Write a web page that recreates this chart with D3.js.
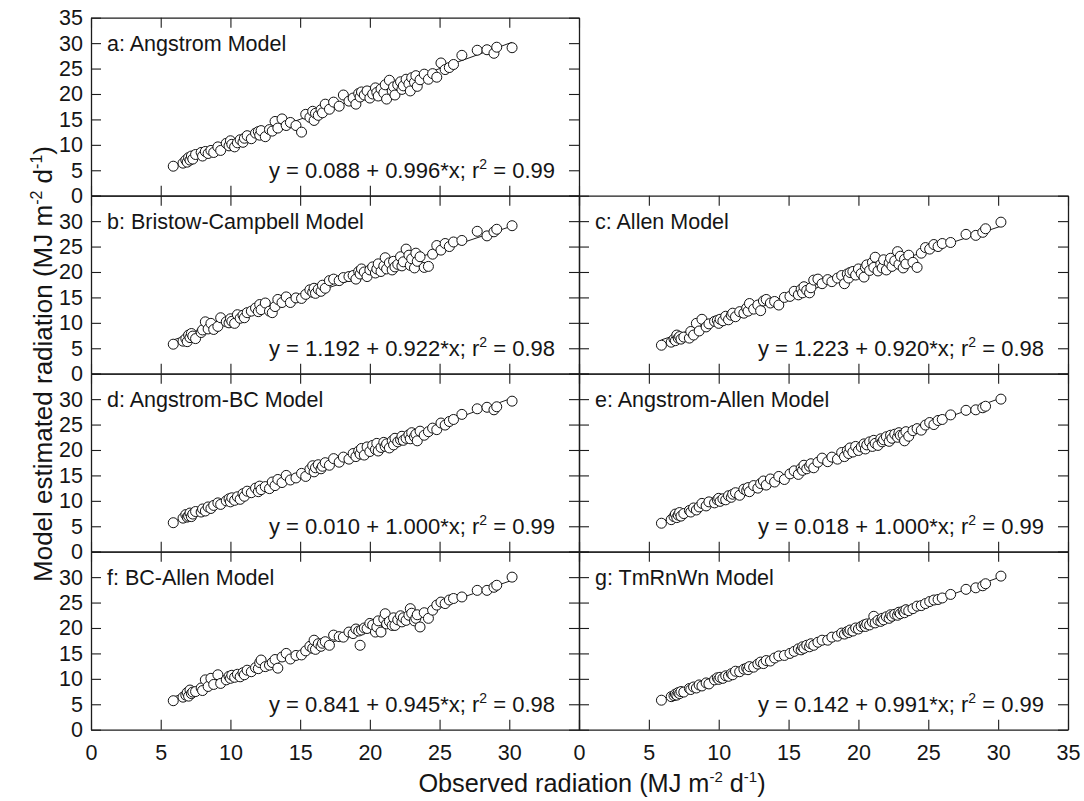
<!DOCTYPE html>
<html>
<head>
<meta charset="utf-8">
<script src="https://cdn.jsdelivr.net/npm/d3@7"></script>
<style>
  html, body { margin: 0; padding: 0; background: #fff; }
  svg { display: block; }
  text { font-family: "Liberation Sans", Arial, Helvetica, sans-serif; fill: #151515; }
</style>
</head>
<body>
<svg id="chart" width="1084" height="801"></svg>
<script>
// Observed daily radiation (MJ m-2 d-1), shared by every model panel
const observed = [
  5.9, 6.6, 6.8, 6.9, 7.0, 7.1, 7.2, 7.3, 7.5, 7.9,
  8.0, 8.2, 8.4, 8.6, 8.8, 9.1, 9.3, 9.7, 9.9, 10.0,
  10.1, 10.3, 10.5, 10.7, 10.9, 11.0, 11.2, 11.5, 11.8, 12.0,
  12.1, 12.2, 12.5, 12.8, 13.0, 13.2, 13.4, 13.7, 14.0, 14.3,
  14.7, 15.1, 15.4, 15.7, 15.9, 16.0, 16.1, 16.3, 16.5, 16.6,
  16.8, 17.1, 17.4, 17.8, 18.1, 18.5, 18.8, 19.0, 19.2, 19.3,
  19.4, 19.6, 19.8, 20.0, 20.2, 20.4, 20.5, 20.6, 20.8, 21.0,
  21.1, 21.2, 21.4, 21.6, 21.7, 21.8, 22.0, 22.2, 22.3, 22.4,
  22.6, 22.8, 22.9, 23.0, 23.2, 23.3, 23.4, 23.6, 23.9, 24.2,
  24.5, 24.8, 25.1, 25.4, 25.7, 26.0, 26.6, 27.7, 28.4, 28.9,
  29.1, 30.2
];

// Model estimates, one value per observation
const angstrom = [
  5.8, 6.4, 7.0, 6.6, 7.5, 7.0, 7.8, 7.2, 8.1, 8.5,
  7.8, 8.7, 8.3, 8.9, 8.5, 9.6, 8.9, 10.3, 9.8, 10.8,
  10.1, 9.6, 10.4, 11.0, 10.5, 11.3, 11.8, 11.2, 12.3, 12.6,
  11.9, 12.8, 11.6, 13.0, 12.7, 14.6, 13.3, 15.1, 13.8, 14.4,
  13.8, 12.5, 16.0, 15.4, 16.6, 14.8, 16.2, 15.8, 16.9, 16.3,
  18.0, 17.0, 18.4, 17.6, 19.8, 18.6, 19.2, 18.0, 20.1, 19.4,
  20.4, 19.8, 20.6, 19.2, 20.0, 21.2, 20.3, 19.6, 21.0, 20.2,
  21.8, 19.0, 22.7, 20.6, 21.4, 19.8, 21.8, 22.4, 20.9, 21.6,
  22.9, 22.0, 20.6, 23.2, 22.3, 23.6, 21.5, 22.8, 23.9, 22.9,
  24.0, 23.3, 26.1, 24.8, 25.2, 25.8, 27.6, 28.6, 28.7, 28.0,
  29.2, 29.1
];
const bristowCampbell = [
  5.8, 6.4, 6.9, 6.3, 7.6, 7.1, 7.9, 7.4, 6.9, 8.1,
  8.6, 10.2, 8.8, 9.9, 8.7, 9.3, 11.0, 10.2, 10.0, 10.8,
  10.3, 9.9, 11.6, 10.9, 11.5, 11.0, 12.0, 12.3, 12.9, 12.2,
  13.6, 12.6, 13.9, 12.3, 12.0, 13.2, 14.6, 14.0, 15.1, 14.0,
  14.9, 14.8, 15.6, 16.5, 16.0, 16.8, 15.8, 16.6, 16.2, 17.4,
  16.8, 18.3, 18.6, 18.3, 18.9, 19.1, 19.3, 18.6, 20.1, 19.6,
  20.6, 20.0, 19.1, 20.4, 21.0, 19.8, 20.6, 21.6, 20.1, 21.2,
  22.8, 20.6, 21.8, 20.4, 22.1, 21.0, 21.5, 23.0, 21.2, 22.0,
  24.5, 23.3, 21.3, 22.6, 20.8, 23.7, 22.1, 23.0, 20.9, 21.1,
  23.5, 25.2, 24.3, 25.6, 25.0, 25.9, 26.2, 28.0, 27.1, 27.9,
  28.4, 29.1
];
const allen = [
  5.6, 6.2, 6.8, 6.5, 7.6, 7.0, 7.3, 6.8, 7.2, 7.0,
  8.3, 7.6, 9.9, 8.4, 10.7, 9.2, 9.8, 10.3, 10.5, 9.9,
  10.7, 10.4, 11.3, 10.6, 11.5, 11.9, 11.2, 12.2, 11.9, 12.9,
  12.3, 13.8, 12.7, 13.5, 12.4, 14.3, 14.6, 13.9, 14.2, 13.5,
  15.0, 15.2, 16.2, 15.5, 16.6, 15.9, 17.1, 16.4, 15.9, 16.9,
  18.4, 18.6, 17.7, 18.5, 18.1, 18.8, 19.3, 17.7, 19.6, 18.8,
  19.9, 20.1, 19.4, 20.6, 19.7, 19.0, 20.9, 21.4, 20.3, 21.9,
  20.9, 22.9, 20.2, 21.5, 20.8, 22.4, 20.4, 21.8, 22.7, 21.1,
  22.2, 24.0, 21.5, 23.1, 20.8, 22.5, 21.6, 23.3, 21.9, 20.9,
  23.7, 24.8, 24.5, 25.4, 25.0, 25.6, 25.8, 27.4, 27.2, 27.8,
  28.5, 29.8
];
const angstromBC = [
  5.7, 6.6, 7.3, 6.8, 7.0, 7.6, 6.9, 7.4, 7.9, 7.8,
  8.4, 8.0, 8.8, 8.5, 9.1, 9.6, 9.3, 10.0, 10.4, 9.8,
  10.6, 10.1, 10.8, 10.3, 11.4, 10.9, 11.9, 11.6, 12.5, 11.8,
  12.9, 12.2, 12.8, 12.4, 13.7, 13.0, 14.2, 13.6, 15.0, 14.1,
  14.5, 15.4, 14.8, 16.2, 16.9, 15.7, 16.5, 17.1, 16.3, 16.8,
  17.5, 17.0, 18.3, 17.6, 18.6, 18.2, 19.3, 18.7, 19.8, 19.2,
  20.3, 19.0, 20.6, 19.7, 20.9, 20.1, 21.3, 19.8, 20.5, 21.5,
  20.7, 21.2, 20.4, 21.8, 21.0, 22.3, 21.6, 22.0, 22.7, 21.9,
  22.3, 23.0, 22.2, 23.4, 22.6, 23.1, 21.8, 23.7, 22.9, 23.6,
  24.3, 24.0, 25.3, 24.9, 25.6, 26.0, 27.0, 28.1, 28.4, 27.9,
  28.5, 29.6
];
const angstromAllen = [
  5.6, 6.3, 6.9, 7.4, 6.7, 7.2, 7.7, 7.0, 7.5, 8.1,
  7.8, 8.6, 8.2, 8.8, 9.5, 9.0, 9.8, 9.6, 10.2, 10.5,
  9.9, 10.4, 10.2, 11.0, 10.7, 11.3, 11.6, 11.1, 12.3, 12.0,
  12.6, 11.8, 13.0, 12.5, 13.4, 13.9, 13.1, 14.3, 13.7, 14.8,
  14.2, 15.3, 15.9, 15.2, 16.4, 16.0, 17.0, 16.3, 16.8, 17.3,
  16.5, 17.6, 18.4, 17.7, 18.6, 18.2, 19.5, 18.7, 19.9, 19.3,
  20.4, 19.6, 20.7, 19.9, 20.6, 21.2, 20.2, 21.0, 21.6, 20.7,
  21.9, 21.3, 20.9, 22.2, 21.6, 22.0, 22.6, 21.7, 22.9, 22.3,
  23.1, 22.5, 23.4, 22.9, 23.0, 21.8, 23.6, 22.7, 23.8, 24.2,
  23.9, 24.9, 25.4, 25.0, 25.8, 26.0, 26.9, 27.8, 27.9, 28.3,
  28.6, 30.0
];
const bcAllen = [
  5.7, 6.4, 6.8, 7.3, 6.6, 7.8, 7.1, 7.4, 7.5, 8.2,
  7.7, 9.8, 8.5, 10.1, 8.9, 10.8, 9.1, 9.8, 10.5, 10.1,
  10.7, 10.3, 10.9, 10.4, 11.2, 10.8, 11.7, 11.4, 12.2, 12.0,
  13.2, 13.7, 12.4, 12.7, 13.2, 13.8, 12.1, 14.3, 15.0, 13.9,
  14.6, 14.7, 15.5, 16.4, 16.0, 17.6, 15.8, 16.9, 16.4, 17.0,
  17.3, 16.6, 18.6, 18.3, 18.2, 19.2, 18.9, 19.8, 19.4, 16.6,
  19.6, 20.0, 19.9, 20.9, 20.6, 19.2, 20.2, 21.4, 19.2, 21.8,
  22.8, 20.8, 21.3, 20.5, 22.0, 20.5, 21.6, 22.4, 21.2, 22.0,
  21.5, 22.5, 23.8, 22.9, 21.4, 21.9, 22.6, 20.2, 23.0, 21.9,
  23.5, 24.5, 25.1, 24.8, 25.5, 25.8, 26.1, 27.4, 27.4, 28.0,
  28.4, 30.0
];
const tmRnWn = [
  5.8, 6.5, 6.7, 7.0, 6.8, 7.3, 7.1, 7.5, 7.4, 8.1,
  7.9, 8.4, 8.2, 8.8, 8.6, 9.2, 9.0, 9.8, 10.2, 9.9,
  10.3, 10.1, 10.6, 10.5, 11.0, 10.8, 11.5, 11.4, 11.9, 12.1,
  11.8, 12.4, 12.3, 12.9, 13.3, 13.0, 13.6, 13.5, 14.1, 14.5,
  14.6, 15.0, 15.4, 15.9, 15.7, 16.3, 16.0, 16.6, 16.3, 16.9,
  16.6, 17.2, 17.6, 17.6, 18.2, 18.4, 19.0, 18.8, 19.3, 19.1,
  19.6, 19.4, 20.0, 19.8, 20.3, 20.6, 20.3, 20.8, 20.6, 21.2,
  22.3, 21.0, 21.5, 21.3, 21.9, 21.6, 22.2, 21.9, 22.6, 22.3,
  22.7, 22.5, 23.1, 22.8, 23.3, 23.0, 23.6, 23.4, 23.8, 24.3,
  24.4, 24.8, 25.2, 25.5, 25.6, 25.9, 26.6, 27.6, 27.9, 28.3,
  28.7, 30.2
];

// Panel titles, fitted regression terms and r²
const panelTitles = [
  "a: Angstrom Model", "b: Bristow-Campbell Model", "c: Allen Model",
  "d: Angstrom-BC Model", "e: Angstrom-Allen Model", "f: BC-Allen Model",
  "g: TmRnWn Model"
];
const panelEstimates = [angstrom, bristowCampbell, allen, angstromBC, angstromAllen, bcAllen, tmRnWn];
const intercepts = ["0.088", "1.192", "1.223", "0.010", "0.018", "0.841", "0.142"];
const slopes = ["0.996", "0.922", "0.920", "1.000", "1.000", "0.945", "0.991"];
const rSquared = ["0.99", "0.98", "0.98", "0.99", "0.99", "0.98", "0.99"];

// Grid position (row, column) of each panel
const panelRows = [0, 1, 1, 2, 2, 3, 3];
const panelCols = [0, 0, 1, 0, 1, 0, 1];

const tickValues = [0, 5, 10, 15, 20, 25, 30, 35];
const xLabelTicksLeft = [0, 5, 10, 15, 20, 25, 30];
const xLabelTicksRight = [0, 5, 10, 15, 20, 25, 30, 35];
const yLabelTicksTop = [0, 5, 10, 15, 20, 25, 30, 35];
const yLabelTicksOther = [0, 5, 10, 15, 20, 25, 30];

// ---- layout ----
const colLeft = [91, 579];
const colRight = [579, 1068];
const top0 = 17.7;
const rowH = 178;
const tickLen = 10;
const ink = "#1c1c1c";

const svg = d3.select("#chart");

panelTitles.forEach((title, i) => {
  const r = panelRows[i], c = panelCols[i];
  const x = d3.scaleLinear().domain([0, 35]).range([colLeft[c], colRight[c]]);
  const y = d3.scaleLinear().domain([0, 35]).range([top0 + (r + 1) * rowH, top0 + r * rowH]);
  const g = svg.append("g").attr("class", "panel");

  const styleAxis = sel => {
    sel.selectAll("path.domain").attr("stroke", ink).attr("stroke-width", 1.3);
    sel.selectAll(".tick line").attr("stroke", ink).attr("stroke-width", 1.1);
    sel.selectAll(".tick text")
      .attr("font-family", '"Liberation Sans", Arial, sans-serif')
      .attr("font-size", 21.5).attr("fill", "#151515");
  };

  // left axis: inward ticks, labels only on the left column
  const yLabels = c === 0 ? (r === 0 ? yLabelTicksTop : yLabelTicksOther) : [];
  g.append("g").attr("transform", `translate(${colLeft[c]},0)`)
    .call(d3.axisLeft(y).tickValues(tickValues).tickSize(-tickLen).tickSizeOuter(0)
      .tickPadding(8).tickFormat(v => yLabels.includes(v) ? d3.format("d")(v) : ""))
    .call(styleAxis);

  // right axis
  g.append("g").attr("transform", `translate(${colRight[c]},0)`)
    .call(d3.axisRight(y).tickValues(tickValues).tickSize(-tickLen).tickSizeOuter(0).tickFormat(""))
    .call(styleAxis);

  // top axis
  g.append("g").attr("transform", `translate(0,${y(35)})`)
    .call(d3.axisTop(x).tickValues(tickValues).tickSize(-tickLen).tickSizeOuter(0).tickFormat(""))
    .call(styleAxis);

  // bottom axis, labelled only on the last row
  const xLabels = r === 3 ? (c === 0 ? xLabelTicksLeft : xLabelTicksRight) : [];
  g.append("g").attr("transform", `translate(0,${y(0)})`)
    .call(d3.axisBottom(x).tickValues(tickValues).tickSize(-tickLen).tickSizeOuter(0)
      .tickPadding(15).tickFormat(v => xLabels.includes(v) ? d3.format("d")(v) : ""))
    .call(styleAxis);

  // regression line across the observed range
  const a = +intercepts[i], b = +slopes[i];
  const xs = d3.extent(observed);
  g.append("line")
    .attr("x1", x(xs[0])).attr("y1", y(a + b * xs[0]))
    .attr("x2", x(xs[1])).attr("y2", y(a + b * xs[1]))
    .attr("stroke", ink).attr("stroke-width", 1);

  // observation points
  const est = panelEstimates[i];
  g.append("g").selectAll("circle")
    .data(observed.map((o, k) => [o, est[k]]))
    .join("circle")
    .attr("cx", d => x(d[0]))
    .attr("cy", d => y(d[1]))
    .attr("r", 5)
    .attr("fill", "#fff")
    .attr("stroke", "#111")
    .attr("stroke-width", 1);

  // panel title
  g.append("text")
    .attr("x", colLeft[c] + 16)
    .attr("y", y(30) + 7.5)
    .attr("font-size", 21.5)
    .text(title);

  // regression equation
  const eq = g.append("text")
    .attr("x", colRight[c] - 24)
    .attr("y", y(5) + 8)
    .attr("text-anchor", "end")
    .attr("font-size", 22);
  eq.append("tspan").text(`y = ${intercepts[i]} + ${slopes[i]}*x; r`);
  eq.append("tspan").attr("dy", -9).attr("font-size", 14).text("2");
  eq.append("tspan").attr("dy", 9).text(` = ${rSquared[i]}`);
});

// axis titles
const xTitle = svg.append("text")
  .attr("x", 592).attr("y", 792)
  .attr("text-anchor", "middle")
  .attr("font-size", 25.3);
xTitle.append("tspan").text("Observed radiation (MJ m");
xTitle.append("tspan").attr("dy", -10).attr("font-size", 15).text("-2");
xTitle.append("tspan").attr("dy", 10).text(" d");
xTitle.append("tspan").attr("dy", -10).attr("font-size", 15).text("-1");
xTitle.append("tspan").attr("dy", 10).text(")");

const yTitle = svg.append("text")
  .attr("transform", "translate(52,364) rotate(-90)")
  .attr("text-anchor", "middle")
  .attr("font-size", 26);
yTitle.append("tspan").text("Model estimated radiation (MJ m");
yTitle.append("tspan").attr("dy", -10).attr("font-size", 16).text("-2");
yTitle.append("tspan").attr("dy", 10).text(" d");
yTitle.append("tspan").attr("dy", -10).attr("font-size", 16).text("-1");
yTitle.append("tspan").attr("dy", 10).text(")");
</script>
</body>
</html>
